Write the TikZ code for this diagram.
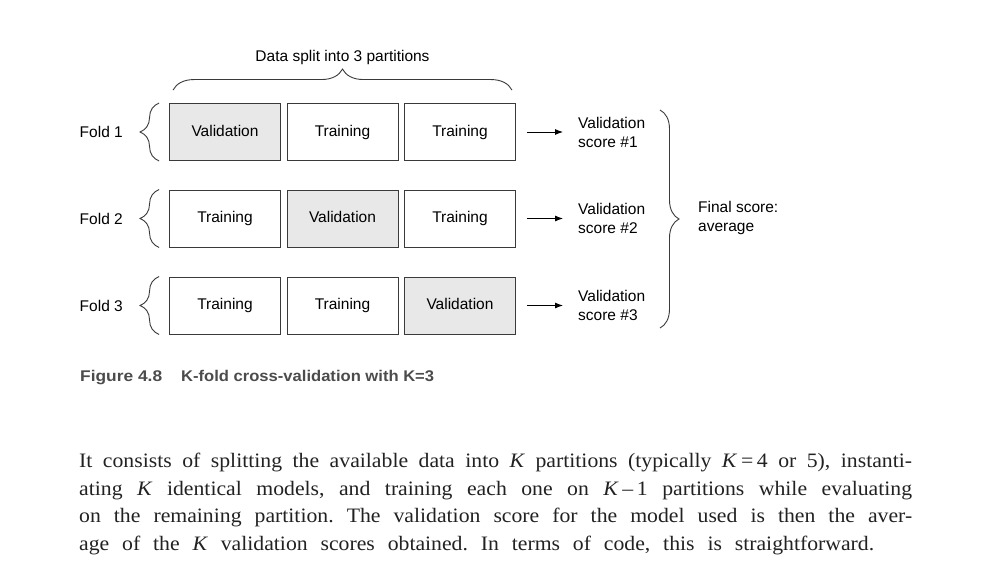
\documentclass[tikz,border=0pt]{standalone}
\usepackage{fontspec}
\setmainfont{Liberation Serif}
\newfontfamily\bodyfont{Liberation Serif}
\newfontfamily\diagfont{Liberation Sans}
\usetikzlibrary{arrows.meta,decorations.pathreplacing}
\definecolor{boxline}{HTML}{3A3A3A}
\definecolor{valfill}{HTML}{E8E8E8}
\definecolor{capgray}{HTML}{4C4C4C}
\definecolor{bodytext}{HTML}{222222}
\frenchspacing
\tikzset{
  part/.style={draw=boxline, line width=0.9pt, minimum width=111pt, minimum height=57pt, inner sep=0pt,
    text height=11pt, text depth=3pt, font=\diagfont\fontsize{15.5}{18}\selectfont},
  val/.style={part, fill=valfill},
  trn/.style={part, fill=white},
  lbl/.style={font=\diagfont\fontsize{15.5}{19}\selectfont, text=black, inner sep=0pt},
  brc/.style={decorate, draw=boxline, line width=0.9pt},
  arr/.style={-{Latex[length=8pt,width=6pt]}, line width=0.9pt, draw=black},
  bodyline/.style={anchor=base west, inner sep=0pt, text=bodytext, font=\bodyfont\fontsize{20.5}{27.6}\selectfont}
}
\newcommand{\bodyrow}[2]{\scalebox{1.06}[1]{\makebox[#1][s]{#2}}}
\begin{document}
\begin{tikzpicture}[x=1pt,y=-1pt]
\useasboundingbox (0,0) rectangle (1004,578);
\fill[white] (0,0) rectangle (1004,578);
% boxes
\node[val] (b11) at (225,132) {Validation};
\node[trn] (b12) at (342.5,132) {Training};
\node[trn] (b13) at (460,132) {Training};
\node[trn] (b21) at (225,218.5) {Training};
\node[val] (b22) at (342.5,218.5) {Validation};
\node[trn] (b23) at (460,218.5) {Training};
\node[trn] (b31) at (225,305.5) {Training};
\node[trn] (b32) at (342.5,305.5) {Training};
\node[val] (b33) at (460,305.5) {Validation};
% fold labels
\node[lbl, anchor=east] (f1) at (123,132) {Fold 1};
\node[lbl, anchor=east] (f2) at (123,218.5) {Fold 2};
\node[lbl, anchor=east] (f3) at (123,305.5) {Fold 3};
% left braces
\draw[brc, decoration={brace,amplitude=19pt}] ([xshift=-10pt]b11.south west) -- ([xshift=-10pt]b11.north west);
\draw[brc, decoration={brace,amplitude=19pt}] ([xshift=-10pt]b21.south west) -- ([xshift=-10pt]b21.north west);
\draw[brc, decoration={brace,amplitude=19pt}] ([xshift=-10pt]b31.south west) -- ([xshift=-10pt]b31.north west);
% top brace
\draw[brc, decoration={brace,amplitude=21pt}] ([xshift=4pt,yshift=13pt]b11.north west) -- ([xshift=-4pt,yshift=13pt]b13.north east);
\node[lbl, anchor=base] (top) at (342.5,62) {Data split into 3 partitions};
% scores
\node[lbl, anchor=west, align=left] (s1) at (578,132) {Validation\\score \#1};
\node[lbl, anchor=west, align=left] (s2) at (578,218.5) {Validation\\score \#2};
\node[lbl, anchor=west, align=left] (s3) at (578,305.5) {Validation\\score \#3};
\draw[arr, shorten <=11pt, shorten >=15pt] (b13.east) -- (s1.west);
\draw[arr, shorten <=11pt, shorten >=15pt] (b23.east) -- (s2.west);
\draw[arr, shorten <=11pt, shorten >=15pt] (b33.east) -- (s3.west);
% right brace
\coordinate (rbtop) at (660,110);
\coordinate (rbbot) at (660,328);
\draw[brc, decoration={brace,amplitude=19pt}] (rbtop) -- (rbbot);
\node[lbl, anchor=west, align=left] (fin) at (698,218) {Final score:\\average};
% caption
\node[anchor=base west, inner sep=0pt, text=capgray, font=\diagfont\bfseries\fontsize{15.5}{18}\selectfont] (capa) at (80,381) {\scalebox{1.12}[1]{Figure 4.8}};
\node[anchor=base west, inner sep=0pt, text=capgray, font=\diagfont\bfseries\fontsize{15.5}{18}\selectfont] (capb) at (181,381) {\scalebox{1.07}[1]{K-fold cross-validation with K=3}};
% paragraph
\node[bodyline] (p1) at (79,467) {\bodyrow{785.8pt}{It consists of splitting the available data into \textit{K} partitions (typically \textit{K}\,=\,4 or 5), instanti-}};
\node[bodyline] (p2) at (79,495) {\bodyrow{785.8pt}{ating \textit{K} identical models, and training each one on \textit{K}\,–\,1 partitions while evaluating}};
\node[bodyline] (p3) at (79,522.5) {\bodyrow{785.8pt}{on the remaining partition. The validation score for the model used is then the aver-}};
\node[bodyline] (p4) at (79,550) {\bodyrow{750pt}{age of the \textit{K} validation scores obtained. In terms of code, this is straightforward.}};
\end{tikzpicture}
\end{document}
